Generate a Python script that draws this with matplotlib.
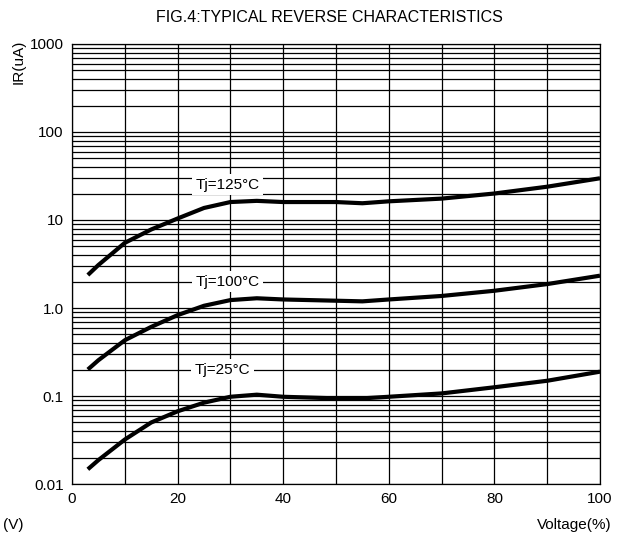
import matplotlib
matplotlib.use("Agg")
import matplotlib.pyplot as plt
from matplotlib.ticker import LogLocator, NullFormatter, FixedLocator

plt.rcParams["font.family"] = ["Liberation Sans", "DejaVu Sans"]

# voltage in % of rated, current in uA
voltage = [3, 5, 10, 15, 20, 25, 30, 35, 40, 50, 55, 60, 70, 80, 90, 100]
ir_125 = [2.37, 3.08, 5.5, 7.8, 10.4, 13.7, 16.0, 16.5, 16.0, 16.0, 15.5, 16.3, 17.5, 20.0, 23.9, 29.8]
ir_100 = [0.20, 0.255, 0.43, 0.61, 0.83, 1.06, 1.23, 1.29, 1.25, 1.21, 1.19, 1.25, 1.37, 1.57, 1.87, 2.33]
ir_25 = [0.0147, 0.0187, 0.032, 0.050, 0.067, 0.084, 0.098, 0.1035, 0.098, 0.094, 0.094, 0.098,
         0.107, 0.1257, 0.149, 0.189]

labels = ["Tj=125°C", "Tj=100°C", "Tj=25°C"]
label_pos = [(29.5, 25.0), (29.5, 2.0), (28.5, 0.20)]

x_ticks = [0, 20, 40, 60, 80, 100]
y_ticks = [0.01, 0.1, 1, 10, 100, 1000]
y_tick_labels = ["0.01", "0.1", "1.0", "10", "100", "1000"]

fig = plt.figure(figsize=(6.22, 5.36), dpi=100)
ax = fig.add_axes([72 / 622, 52 / 536, 528 / 622, 440 / 536])

for ir in (ir_125, ir_100, ir_25):
    ax.plot(voltage, ir, color="black", lw=3, solid_capstyle="butt",
            solid_joinstyle="round", zorder=3)

for txt, (lx, ly) in zip(labels, label_pos):
    ax.text(lx, ly, txt, ha="center", va="center", fontsize=11, zorder=4,
            bbox=dict(facecolor="white", edgecolor="none", pad=2.5))

ax.set_yscale("log")
ax.set_xlim(0, 100)
ax.set_ylim(0.01, 1000)

ax.set_xticks(x_ticks)
ax.xaxis.set_minor_locator(FixedLocator(range(0, 101, 10)))
ax.set_yticks(y_ticks)
ax.set_yticklabels(y_tick_labels)
ax.yaxis.set_minor_locator(LogLocator(base=10, subs=range(2, 10)))
ax.yaxis.set_minor_formatter(NullFormatter())

ax.grid(True, which="both", color="black", lw=0.9)
ax.tick_params(which="both", length=0, labelsize=11, pad=6)
for sp in ax.spines.values():
    sp.set_color("black")
    sp.set_linewidth(0.9)

fig.text(329 / 622, 1 - 18 / 536, "FIG.4:TYPICAL REVERSE CHARACTERISTICS",
         ha="center", va="center", fontsize=11.5)
fig.text(19 / 622, 1 - 62 / 536, "IR(uA)", rotation=90,
         ha="center", va="center", fontsize=11)
fig.text(3 / 622, 1 - 525 / 536, "(V)", ha="left", va="center", fontsize=11)
fig.text(612 / 622, 1 - 525 / 536, "Voltage(%)", ha="right", va="center", fontsize=11)

fig.savefig("out.png", dpi=100)
